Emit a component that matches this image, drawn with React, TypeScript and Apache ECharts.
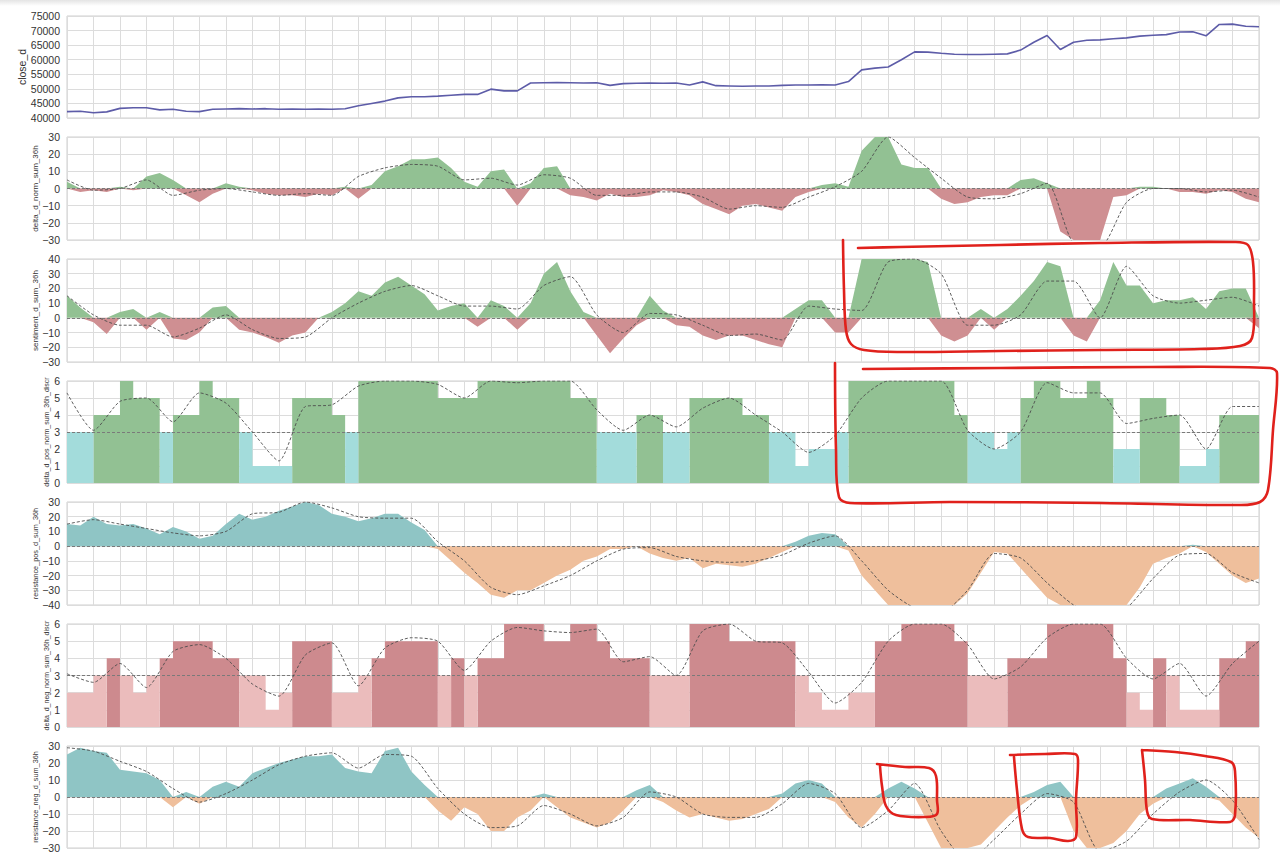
import React, { useEffect, useRef } from "react";
import * as echarts from "echarts";

// ---------- data (x step: 0.5 grid unit for filled series, 1 unit for dashed averages) ----------
const X_MAX = 45;
const HALF = 0.5;

const closeD = [
  42200, 42300, 41800, 42100, 43300, 43500, 43500, 42800, 43000, 42300,
  42200, 43000, 43100, 43200, 43100, 43200, 43000, 43100, 43000, 43100,
  43000, 43200, 44200, 45000, 45800, 46900, 47300, 47300, 47500, 47800,
  48100, 48100, 49900, 49300, 49300, 52000, 52100, 52200, 52100, 52000,
  52100, 51200, 51800, 51900, 52000, 51900, 52000, 51300, 52400, 51100,
  51000, 50900, 51000, 51000, 51200, 51300, 51300, 51400, 51300, 52500,
  56500, 57100, 57500, 60000, 62700, 62600, 62200, 61900, 61800, 61800,
  61900, 62000, 63300, 66000, 68300, 63500, 66000, 66700, 66800, 67200,
  67500, 68100, 68400, 68600, 69500, 69600, 68200, 72100, 72200, 71500,
  71300,
];

const deltaNorm = [
  4, -2, -1, -2, 1, -1, 7, 9, 5, -4,
  -8, -3, 3, 1, -1, -3, -4, -4, -5, -3,
  -4, 1, -6, 2, 10, 13, 17, 17, 18, 12,
  4, 1, 10, 11, -10, 3, 12, 13, -4, -5,
  -7, -3, -5, -5, -4, -1, -2, -4, -9, -12,
  -15, -10, -9, -11, -13, -5, -2, 2, 3, 1,
  22, 30, 30, 14, 12, 12, -6, -9, -8, -5,
  -4, -4, 5, 6, 3, -25, -30, -30, -30, -5,
  -4, 1, 1, 0, -2, -2, -3, -1, -2, -6,
  -8,
];
const deltaNormAvg = [
  5, -1, 0, 5, -4, -1, 0, -2, -4, -3,
  -4, 7, 12, 14, 13, 5, 6, 2, 8, 6,
  -4, -4, -2, -2, -5, -12, -10, -11, -5, 1,
  10, 30, 18, 6, -5, -6, -3, 3, -32, -34,
  -8, 0, 0, -2, -1, -5,
];

const sentiment = [
  15, 7, -3, -11, 4, 6, -8, 4, -14, -15,
  -10, 7, 8, -8, -10, -13, -17, -12, -10, 0,
  4, 10, 18, 15, 24, 28, 22, 16, 5, 8,
  10, -6, 12, 8, -8, 10, 30, 38, 18, 4,
  -12, -24, -14, -5, 15, 5, -5, -6, -12, -15,
  -12, -12, -15, -18, -20, 6, 12, 12, -10, -10,
  40, 40, 40, 40, 40, 38, -12, -16, -12, 6,
  -8, 6, 15, 25, 38, 35, -12, -16, 12, 38,
  22, 22, 10, 12, 12, 14, 6, 18, 20, 20,
  -7,
];
const sentimentAvg = [
  15, 2, -5, -5, -13, -7, 2, -8, -14, -13,
  0, 10, 18, 22, 15, 8, 8, 6, 22, 28,
  2, -10, 3, 2, -5, -12, -11, -15, 8, 6,
  5, 38, 40, 30, -5, -5, 2, 25, 25, 0,
  35, 15, 10, 12, 14, 8,
];

const posDiscr = [
  3, 3, 4, 4, 6, 5, 5, 3, 4, 4,
  6, 5, 5, 3, 1, 1, 1, 5, 5, 5,
  4, 3, 6, 6, 6, 6, 6, 6, 5, 5,
  5, 6, 6, 6, 6, 6, 6, 6, 5, 5,
  3, 3, 3, 4, 4, 3, 3, 5, 5, 5,
  5, 4, 4, 3, 3, 1, 2, 2, 3, 6,
  6, 6, 6, 6, 6, 6, 6, 4, 3, 3,
  2, 3, 5, 6, 6, 5, 5, 6, 5, 2,
  2, 5, 5, 4, 1, 1, 2, 4, 4, 4,
  4,
];
const posDiscrAvg = [
  5.3, 3.1, 4.8, 5.0, 3.6, 5.3, 4.7, 3.0, 1.3, 4.5,
  4.6, 5.7, 6, 6, 5.8, 5.0, 6, 5.9, 6, 6,
  4.3, 3.1, 4.0, 3.3, 4.4, 5.0, 4.0, 3.0, 1.8, 2.8,
  5.0, 6, 6, 6, 3.1, 2.0, 3.0, 5.9, 5.3, 5.3,
  3.5, 3.8, 4.0, 2.0, 4.5, 4.5,
];

const resistancePos = [
  15, 14, 20, 15, 14, 15, 12, 8, 13, 10,
  5, 7, 15, 22, 18, 20, 24, 27, 30, 28,
  22, 20, 17, 19, 22, 22, 16, 11, -2, -10,
  -18, -25, -33, -35, -30, -30, -25, -20, -16, -10,
  -7, -2, -2, 0, -5, -8, -10, -8, -15, -12,
  -13, -14, -12, -8, -4, 3, 7, 9, 8, -3,
  -20, -30, -40, -40, -40, -40, -40, -40, -32, -18,
  -4, -5, -15, -25, -35, -40, -40, -40, -40, -40,
  -40, -28, -12, -8, -5, 1, -4, -12, -20, -25,
  -22,
];
const resistancePosAvg = [
  15, 18, 15, 12, 9, 7, 10, 22, 23, 30,
  26, 20, 19, 19, 3, -10, -28, -33, -27, -20,
  -10, -2, -1, -7, -10, -11, -10, -6, 2, 7,
  -10, -30, -42, -45, -30, -5, -8, -25, -40, -48,
  -42, -22, -6, -5, -18, -25,
];

const negDiscr = [
  2, 2, 3, 4, 3, 2, 3, 4, 5, 5,
  5, 4, 4, 3, 3, 1, 2, 5, 5, 5,
  2, 2, 3, 4, 5, 5, 5, 5, 3, 4,
  3, 4, 4, 6, 6, 6, 5, 5, 6, 6,
  5, 4, 4, 4, 3, 3, 3, 6, 6, 6,
  5, 5, 5, 5, 5, 3, 2, 1, 1, 2,
  2, 5, 5, 6, 6, 6, 6, 5, 3, 3,
  3, 4, 4, 4, 6, 6, 6, 6, 6, 4,
  2, 1, 4, 3, 1, 1, 1, 4, 4, 5,
  5,
];
const negDiscrAvg = [
  3.1, 2.6, 3.7, 2.3, 4.4, 4.8, 4.0, 2.5, 1.8, 4.2,
  4.9, 2.4, 4.6, 5.2, 5.0, 3.3, 5.0, 5.8, 5.6, 5.5,
  5.7, 3.8, 4.1, 3.0, 5.6, 6.0, 5.0, 4.9, 3.2, 1.4,
  2.6, 5.0, 6.0, 6.0, 4.8, 2.8, 3.5, 5.2, 6.0, 6.0,
  4.0, 2.8, 3.7, 1.8, 3.7, 5.0,
];

const resistanceNeg = [
  25, 29, 27, 26, 16, 15, 14, 10, -6, 3,
  -4, 6, 9, 6, 14, 17, 20, 22, 24, 24,
  25, 17, 15, 14, 27, 29, 15, 7, -8, -14,
  -6, -10, -20, -20, -12, -8, 2, -6, -12, -15,
  -18, -15, -8, 4, 7, -3, -8, -12, -10, -12,
  -14, -13, -10, -7, 2, 8, 10, 8, -3, -12,
  -18, -10, 5, 9, 5, -15, -30, -30, -30, -28,
  -20, -12, -5, 3, 7, 9, -20, -30, -30, -27,
  -20, -10, -4, 5, 8, 11, 6, -2, -10, -18,
  -24,
];
const resistanceNegAvg = [
  29, 27, 21, 15, 5, -3, 2, 10, 19, 24,
  26, 17, 25, 24, 5, -10, -18, -17, -5, -10,
  -17, -12, 3, 0, -10, -12, -12, -4, 8, 2,
  -18, -8, 8, -20, -38, -25, -10, 2, -3, -32,
  -26, -10, 3, 10, -2, -25,
];

const panelNames = [
  "close_d",
  "delta_d_norm_sum_36h",
  "sentiment_d_sum_36h",
  "delta_d_pos_norm_sum_36h_discr",
  "resistance_pos_d_sum_36h",
  "delta_d_neg_norm_sum_36h_discr",
  "resistance_neg_d_sum_36h",
];
const yMins = [40000, -30, -30, 0, -40, 0, -30];
const yMaxs = [75000, 30, 40, 6, 30, 6, 30];
const yIntervals = [5000, 10, 10, 1, 10, 1, 10];

// ---------- styling ----------
const GREEN = "#92c193";
const RED = "#cf8f92";
const CYAN = "#a3dcdb";
const PINK = "#ebbcbc";
const TEAL = "#8fc5c5";
const PEACH = "#efbf9c";
const DARK_RED = "#cd8a8e";
const GRID_COLOR = "#dcdcdc";
const LEFT = 67;
const PLOT_W = 1192;
const TOPS = [16, 137, 259, 381, 502, 624, 746];
const HEIGHTS = [102, 103, 103, 102, 103, 103, 102];
const NAME_GAPS = [40, 28, 28, 17, 28, 17, 28];
const NAME_SIZES = [10.5, 8, 8, 7, 7.3, 7, 7.3];
const FONT = "Liberation Sans, Arial, Helvetica, sans-serif";
const ANNOT = "#e0211c";

const halfPairs = (a: number[], f: (v: number) => number) =>
  a.map((v, i) => [i * HALF, f(v)]);
const unitPairs = (a: number[]) => a.map((v, i) => [i, v]);

function areaSeries(
  gi: number,
  data: number[][],
  color: string,
  ref: number | null,
  stepped: boolean
) {
  const s: any = {
    type: "line",
    xAxisIndex: gi,
    yAxisIndex: gi,
    data,
    step: stepped ? "end" : false,
    symbol: "none",
    lineStyle: { width: 0 },
    areaStyle: { color, opacity: 1 },
    z: 2,
    silent: true,
  };
  if (ref !== null) {
    s.markLine = {
      silent: true,
      symbol: ["none", "none"],
      label: { show: false },
      lineStyle: { color: "#7a7a7a", type: [3, 2], width: 1 },
      data: [{ yAxis: ref }],
      z: 3,
    };
  }
  return s;
}

function avgSeries(gi: number, data: number[]) {
  return {
    type: "line",
    xAxisIndex: gi,
    yAxisIndex: gi,
    data: unitPairs(data),
    smooth: 0.22,
    symbol: "none",
    lineStyle: { color: "#4d4d4d", width: 0.9, type: [3, 2] },
    z: 5,
    silent: true,
  };
}

function polyline(points: number[][]) {
  return {
    type: "polyline",
    shape: { points, smooth: 0.35 },
    style: { stroke: ANNOT, lineWidth: 2.6, fill: null, lineCap: "round", lineJoin: "round" },
    z: 100,
    silent: true,
  };
}

function buildOption() {
  const grids = TOPS.map((top, i) => ({
    left: LEFT,
    width: PLOT_W,
    top,
    height: HEIGHTS[i],
    show: true,
    borderColor: "#cfcfcf",
    borderWidth: 1,
    containLabel: false,
    outerBoundsMode: "none",
  }));
  const xAxes = TOPS.map((_, i) => ({
    type: "value",
    gridIndex: i,
    min: 0,
    max: X_MAX,
    interval: 1,
    axisLabel: { show: false },
    axisTick: { show: false },
    axisLine: { show: false },
    splitLine: { show: true, lineStyle: { color: GRID_COLOR, width: 1 } },
  }));
  const yAxes = TOPS.map((_, i) => ({
    type: "value",
    gridIndex: i,
    min: yMins[i],
    max: yMaxs[i],
    interval: yIntervals[i],
    name: panelNames[i],
    nameLocation: "middle",
    nameGap: NAME_GAPS[i],
    nameMoveOverlap: false,
    nameTextStyle: { fontSize: NAME_SIZES[i], color: "#333", fontFamily: FONT },
    axisLabel: {
      fontSize: 10.5,
      color: "#333",
      margin: 7,
      fontFamily: FONT,
      formatter: (v: number) => String(v).replace("-", "\u2212"),
    },
    axisTick: { show: false },
    axisLine: { show: false },
    splitLine: { show: true, lineStyle: { color: GRID_COLOR, width: 1 } },
  }));

  const pos = (v: number) => (v > 0 ? v : 0);
  const neg = (v: number) => (v < 0 ? v : 0);
  const hi = (v: number) => (v > 3 ? v : 0);
  const lo = (v: number) => (v <= 3 ? v : 0);

  const series: any[] = [
    {
      type: "line",
      xAxisIndex: 0,
      yAxisIndex: 0,
      data: halfPairs(closeD, (v) => v),
      symbol: "none",
      lineStyle: { color: "#5d5ca8", width: 1.6 },
      z: 3,
      silent: true,
    },
    areaSeries(1, halfPairs(deltaNorm, pos), GREEN, 0, false),
    areaSeries(1, halfPairs(deltaNorm, neg), RED, null, false),
    avgSeries(1, deltaNormAvg),
    areaSeries(2, halfPairs(sentiment, pos), GREEN, 0, false),
    areaSeries(2, halfPairs(sentiment, neg), RED, null, false),
    avgSeries(2, sentimentAvg),
    areaSeries(3, halfPairs(posDiscr, hi), GREEN, 3, true),
    areaSeries(3, halfPairs(posDiscr, lo), CYAN, null, true),
    avgSeries(3, posDiscrAvg),
    areaSeries(4, halfPairs(resistancePos, pos), TEAL, 0, false),
    areaSeries(4, halfPairs(resistancePos, neg), PEACH, null, false),
    avgSeries(4, resistancePosAvg),
    areaSeries(5, halfPairs(negDiscr, hi), DARK_RED, 3, true),
    areaSeries(5, halfPairs(negDiscr, lo), PINK, null, true),
    avgSeries(5, negDiscrAvg),
    areaSeries(6, halfPairs(resistanceNeg, pos), TEAL, 0, false),
    areaSeries(6, halfPairs(resistanceNeg, neg), PEACH, null, false),
    avgSeries(6, resistanceNegAvg),
  ];

  const graphic: any[] = [
    {
      type: "rect",
      shape: { x: 0, y: 0, width: 1280, height: 6 },
      style: {
        fill: new echarts.graphic.LinearGradient(0, 0, 0, 1, [
          { offset: 0, color: "#e4e4e4" },
          { offset: 1, color: "#ffffff" },
        ]),
      },
      z: 50,
      silent: true,
    },
    polyline([
      [843, 240], [844, 290], [846, 330], [851, 344], [864, 350], [900, 352],
      [1000, 351], [1100, 350], [1200, 349], [1240, 346], [1252, 338],
      [1254, 300], [1253, 262], [1248, 245], [1235, 242], [1100, 243],
      [1000, 245], [900, 247], [858, 248],
    ]),
    polyline([
      [863, 369], [1000, 368], [1150, 367], [1270, 368], [1277, 373],
      [1273, 430], [1268, 490], [1260, 502], [1240, 505], [1100, 503],
      [950, 502], [850, 503], [839, 497], [836, 450], [835, 363],
    ]),
    polyline([
      [877, 764], [905, 767], [929, 768], [936, 776], [937, 800], [937, 814],
      [926, 817], [896, 815], [886, 806], [882, 786], [880, 766],
    ]),
    polyline([
      [1010, 755], [1045, 754], [1075, 754], [1078, 760], [1076, 800],
      [1076, 837], [1068, 841], [1050, 838], [1028, 837], [1022, 829],
      [1017, 790], [1014, 757],
    ]),
    polyline([
      [1142, 750], [1175, 752], [1205, 756], [1231, 762], [1235, 771],
      [1235, 815], [1230, 822], [1190, 820], [1152, 819], [1147, 811],
      [1145, 780], [1142, 750],
    ]),
  ];

  return {
    animation: false,
    backgroundColor: "#ffffff",
    grid: grids,
    xAxis: xAxes,
    yAxis: yAxes,
    series,
    graphic,
  };
}

export default function App() {
  const ref = useRef<HTMLDivElement>(null);
  useEffect(() => {
    if (!ref.current) return;
    const chart = echarts.init(ref.current, null, { renderer: "svg" });
    chart.setOption(buildOption() as any);
    return () => chart.dispose();
  }, []);
  return (
    <div
      ref={ref}
      style={{ position: "fixed", left: 0, top: 0, width: 1280, height: 858, background: "#fff" }}
    />
  );
}
